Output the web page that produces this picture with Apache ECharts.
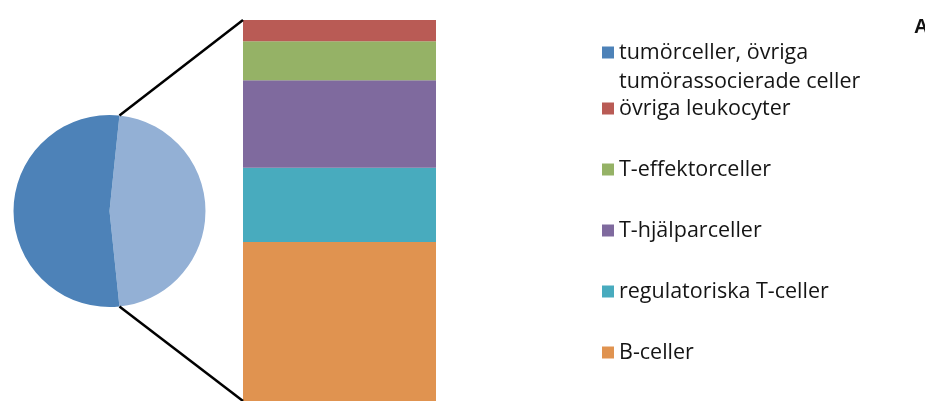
<!DOCTYPE html>
<html>
<head>
<meta charset="utf-8">
<style>
  html, body { margin: 0; padding: 0; background: #ffffff; }
  #chart { width: 925px; height: 401px; }
</style>
<script src="https://cdn.jsdelivr.net/npm/echarts@6/dist/echarts.min.js"></script>
</head>
<body>
<div id="chart"></div>
<script>
// Cell composition (% of all cells): the pie splits tumour cells from
// immune cells, the bar breaks the immune share down by cell type.
const tumorLabel = 'tumörceller, övriga tumörassocierade celler';
const tumorShare = 53.3;
const immuneLabel = 'immunceller';

// Bar segments, listed bottom-to-top of the stack
const cellTypes = ['B-celler', 'regulatoriska T-celler', 'T-hjälparceller', 'T-effektorceller', 'övriga leukocyter'];
const cellShares = [19.5, 9.1, 10.7, 4.8, 2.6];

// Legend order, top to bottom
const legendOrder = [tumorLabel, 'övriga leukocyter', 'T-effektorceller', 'T-hjälparceller', 'regulatoriska T-celler', 'B-celler'];

const cellColors = {
  'B-celler': '#e09350',
  'regulatoriska T-celler': '#48abbe',
  'T-hjälparceller': '#7f6a9e',
  'T-effektorceller': '#95b266',
  'övriga leukocyter': '#b95b55'
};
const tumorColor = '#4d82b8';
const immuneColor = '#93b0d5';

const immuneShare = cellShares.reduce((a, b) => a + b, 0);
// Centre the immune slice on the 3 o'clock direction, facing the bar
const pieStart = 180 * immuneShare / (immuneShare + tumorShare);
const pieCenter = [109.5, 211];
const pieRadius = 96;

const FONT = '"Open Sans", "Noto Sans", sans-serif';
const legendText = { fontFamily: FONT, fontSize: 21.5, color: '#151515', lineHeight: 29 };

const chart = echarts.init(document.getElementById('chart'), null, { renderer: 'canvas' });

const barSeries = cellTypes.map((name, i) => ({
  name: name,
  type: 'bar',
  stack: 'immune',
  data: [cellShares[i]],
  barWidth: '100%',
  itemStyle: { color: cellColors[name] },
  silent: true,
  animation: false
}));

chart.setOption({
  animation: false,
  title: {
    text: 'A',
    left: 909,
    top: 12,
    textStyle: { fontFamily: '"Liberation Sans", Arial, sans-serif', fontSize: 20, fontWeight: 'bold', color: '#111' }
  },
  legend: [
    {
      // two-line label; the leading blank line keeps the swatch beside the first line
      data: [legendOrder[0]],
      left: 597,
      top: 4,
      itemWidth: 12,
      itemHeight: 12,
      itemGap: 0,
      icon: 'rect',
      selectedMode: false,
      formatter: () => '\ntumörceller, övriga\ntumörassocierade celler',
      textStyle: legendText
    },
    {
      data: legendOrder.slice(1),
      orient: 'vertical',
      left: 597,
      top: 89,
      itemWidth: 12,
      itemHeight: 12,
      itemGap: 32,
      icon: 'rect',
      selectedMode: false,
      textStyle: legendText
    }
  ],
  grid: { left: 243, top: 20, width: 193, height: 382 },
  xAxis: { type: 'category', data: [''], show: false },
  yAxis: { type: 'value', min: 0, max: immuneShare, show: false },
  series: [
    {
      type: 'pie',
      center: pieCenter,
      radius: pieRadius,
      startAngle: pieStart,
      clockwise: true,
      label: { show: false },
      labelLine: { show: false },
      silent: true,
      itemStyle: { borderWidth: 0 },
      data: [
        { name: immuneLabel, value: immuneShare, itemStyle: { color: immuneColor } },
        { name: tumorLabel, value: tumorShare, itemStyle: { color: tumorColor } }
      ]
    }
  ].concat(barSeries)
});

// Connector lines from the immune slice's edges to the bar's left corners
function edgePoint(angleDeg) {
  const a = angleDeg * Math.PI / 180;
  return [pieCenter[0] + pieRadius * Math.cos(a), pieCenter[1] - pieRadius * Math.sin(a)];
}
const sliceTop = edgePoint(pieStart);
const sliceBottom = edgePoint(pieStart - 360 * immuneShare / (immuneShare + tumorShare));
const barTop = chart.convertToPixel({ gridIndex: 0 }, [0, immuneShare]);
const barBottom = chart.convertToPixel({ gridIndex: 0 }, [0, 0]);
const barLeft = 243;

chart.setOption({
  graphic: [
    { type: 'line', shape: { x1: sliceTop[0], y1: sliceTop[1], x2: barLeft, y2: barTop[1] }, style: { stroke: '#000', lineWidth: 2.5 }, z: 10 },
    { type: 'line', shape: { x1: sliceBottom[0], y1: sliceBottom[1], x2: barLeft, y2: barBottom[1] }, style: { stroke: '#000', lineWidth: 2.5 }, z: 10 }
  ]
});
</script>
</body>
</html>
